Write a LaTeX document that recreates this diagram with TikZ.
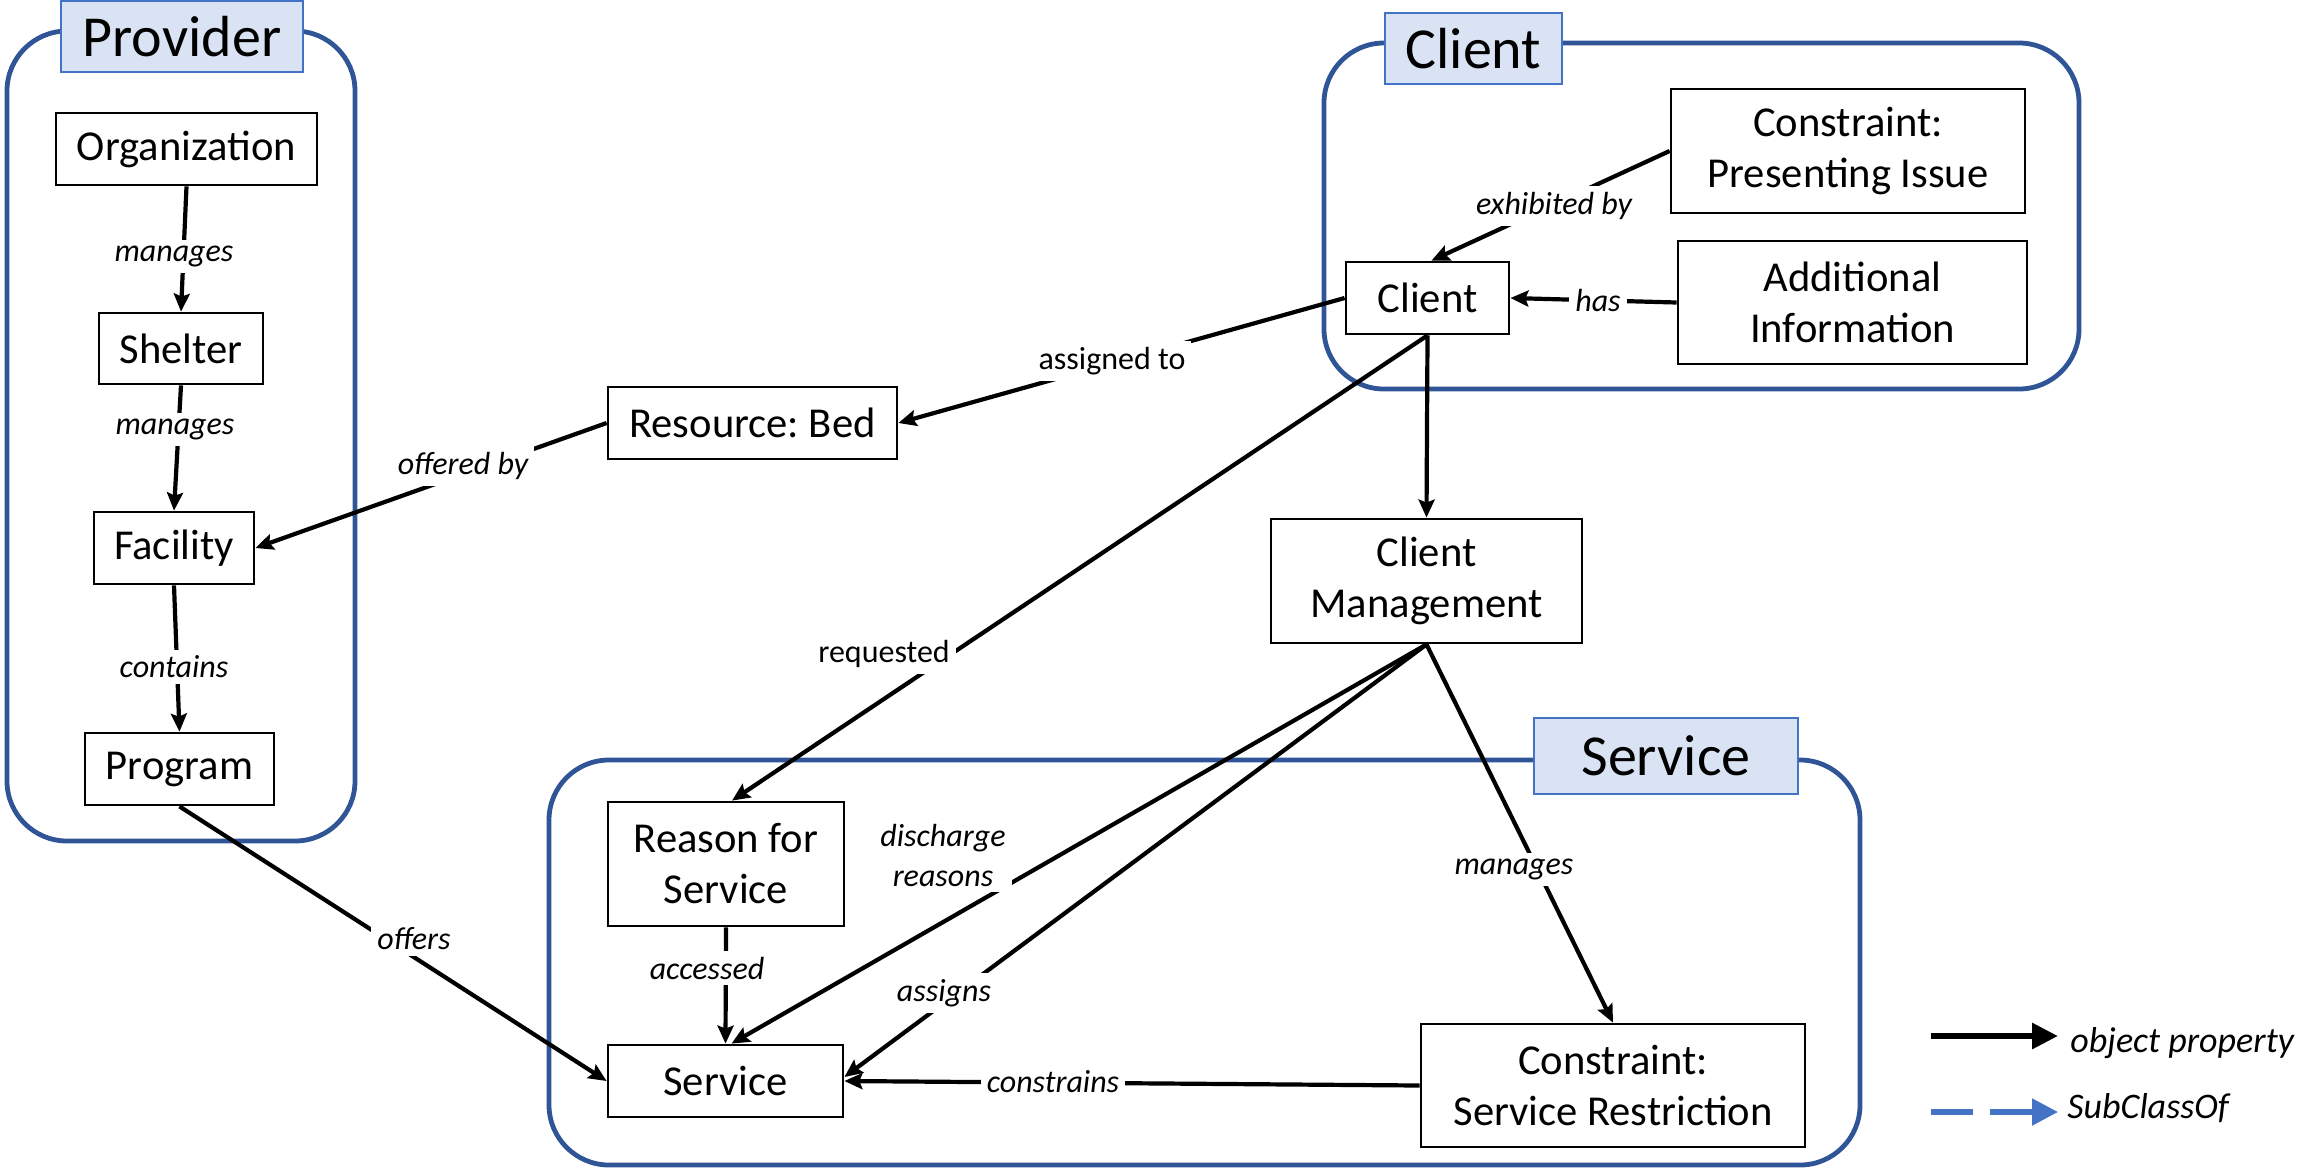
\documentclass[tikz,border=0pt]{standalone}
\usepackage{fontspec}
\setmainfont{Carlito}
\usetikzlibrary{arrows.meta}
\definecolor{contblue}{HTML}{2F5597}
\definecolor{lblblue}{HTML}{4472C4}
\definecolor{lblfill}{HTML}{DAE3F3}
\frenchspacing
\begin{document}
\begin{tikzpicture}[x=0.5pt,y=-0.5pt,
  box/.style={draw=black, line width=1.4pt, fill=white, inner sep=0pt, align=center, font=\fontsize{21.3}{25.5}\selectfont},
  cont/.style={draw=contblue, line width=2.4pt, rounded corners=30pt},
  title/.style={draw=lblblue, line width=0.9pt, fill=lblfill, inner sep=0pt, font=\fontsize{29}{34}\selectfont},
  rel/.style={line width=2.1pt, -{Stealth[length=9pt,width=8pt,inset=1.5pt]}},
  elbl/.style={fill=white, inner sep=3pt, align=center, font=\fontsize{16}{20}\selectfont\itshape},
  ulbl/.style={fill=white, inner sep=3pt, font=\fontsize{16}{20}\selectfont},
  legtxt/.style={anchor=base west, inner sep=0pt, font=\fontsize{18}{22}\selectfont\itshape}
]
\useasboundingbox (0,0) rectangle (2306,1168);

% containers
\draw[cont] (7,31) rectangle (355,841);
\draw[cont] (1324,43) rectangle (2079,389);
\draw[cont] (549,760) rectangle (1860,1165);

% container titles
\node[title, minimum width=121pt, minimum height=35.5pt] (tprov) at (182,36.5) {Provider};
\node[title, minimum width=88.5pt, minimum height=35.5pt] (tcli) at (1473.5,48.5) {Client};
\node[title, minimum width=132pt, minimum height=38pt] (tserv) at (1666,756) {Service};

% boxes
\node[box, minimum width=130.5pt, minimum height=36pt] (org) at (186.5,149) {Organization};
\node[box, minimum width=82pt, minimum height=35.5pt] (shelter) at (181,348.5) {Shelter};
\node[box, minimum width=80pt, minimum height=36pt] (facility) at (174,548) {Facility};
\node[box, minimum width=94.5pt, minimum height=36pt] (program) at (179.5,769) {Program};
\node[box, minimum width=144.5pt, minimum height=36pt] (resource) at (752.5,423) {Resource: Bed};
\node[box, minimum width=81.5pt, minimum height=36pt] (client) at (1427.5,298) {Client};
\node[box, minimum width=177pt, minimum height=62pt] (cpi) at (1848,151) {Constraint:\\Presenting Issue};
\node[box, minimum width=174.5pt, minimum height=61.5pt] (addinfo) at (1852.5,302.5) {Additional\\Information};
\node[box, minimum width=155.5pt, minimum height=62pt] (cm) at (1426.5,581) {Client\\Management};
\node[box, minimum width=118pt, minimum height=62pt] (reason) at (726,864) {Reason for\\Service};
\node[box, minimum width=117.5pt, minimum height=36pt] (service) at (725.5,1081) {Service};
\node[box, minimum width=192pt, minimum height=61.5pt] (csr) at (1613,1085.5) {Constraint:\\Service Restriction};

% connectors
\draw[rel] (org.south) -- (shelter.north);
\draw[rel] (shelter.south) -- (facility.north);
\draw[rel] (facility.south) -- (program.north);
\draw[rel] (resource.west) -- (facility.east);
\draw[rel] (program.south) -- (service.west);
\draw[rel] (client.west) -- (resource.east);
\draw[rel] (cpi.west) -- ([xshift=2pt]client.north);
\draw[rel] (addinfo.west) -- (client.east);
\draw[rel] (client.south) -- (cm.north);
\draw[rel] (client.south) -- ([xshift=3pt]reason.north);
\draw[rel] (reason.south) -- (service.north);
\draw[rel] (cm.south) -- ([xshift=3pt]service.north);
\draw[rel] (cm.south) -- ([yshift=2pt]service.east);
\draw[rel] (cm.south) -- (csr.north);
\draw[rel] (csr.west) -- (service.east);

% connector labels
\node[elbl] (l1) at (174,256) {manages};
\node[elbl] (l2) at (175,429) {manages};
\node[elbl] (l3) at (174,667) {contains};
\node[elbl] (l4) at (463,466) {offered by};
\node[elbl] (l5) at (414,939) {offers};
\node[ulbl] (l6) at (1112,361) {assigned to};
\node[ulbl] (l7) at (884,654) {requested};
\node[elbl] (l8) at (1554,206) {exhibited by};
\node[elbl] (l9) at (1598,300) {has};
\node[elbl] (l10) at (943,855) {discharge\\reasons};
\node[elbl] (l11) at (707,968) {accessed};
\node[elbl] (l12) at (944,993) {assigns};
\node[elbl] (l13) at (1514,869) {manages};
\node[elbl] (l14) at (1053,1082) {constrains};

% legend
\coordinate (ka) at (1931,1036);
\coordinate (kb) at (2058,1036);
\coordinate (kc) at (1931,1112);
\coordinate (kd) at (2058,1112);
\draw[line width=3pt, -{Triangle[length=13pt,width=12.5pt]}] (ka) -- (kb);
\draw[lblblue, line width=2.6pt, dash pattern=on 21pt off 8.5pt, -{Triangle[length=13pt,width=13pt]}] (kc) -- (kd);
\node[legtxt] (kt1) at (2070,1052) {object property};
\node[legtxt] (kt2) at (2067,1118) {SubClassOf};
\end{tikzpicture}
\end{document}
